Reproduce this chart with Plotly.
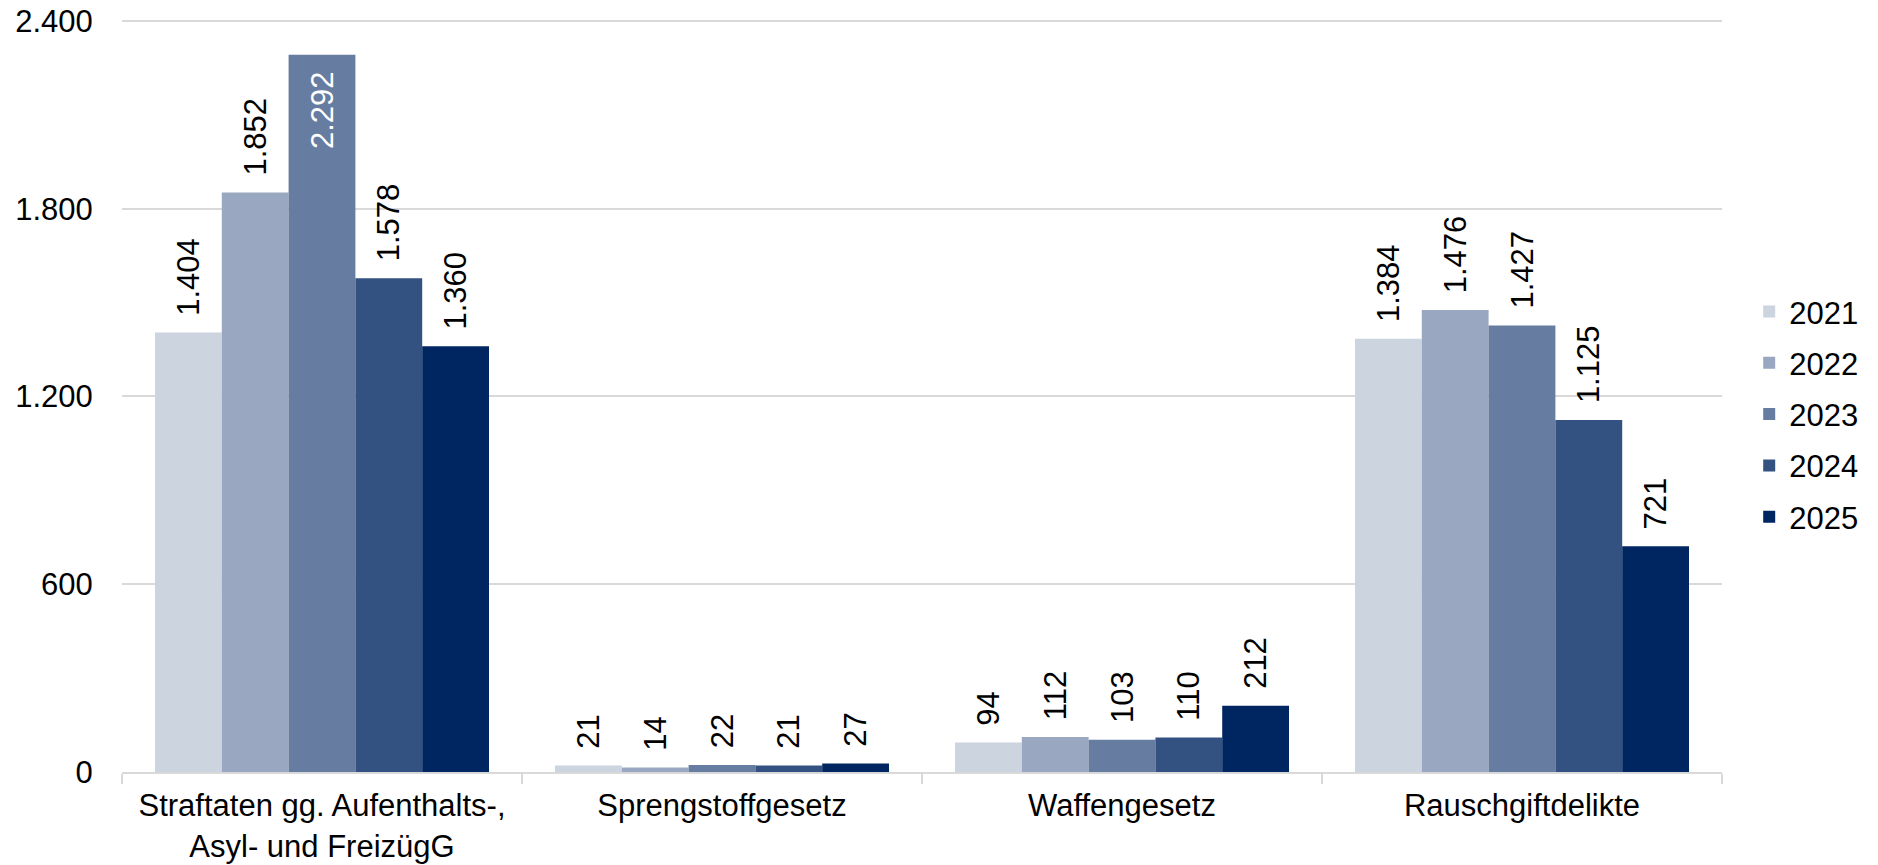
import plotly.graph_objects as go

categories = ["Straftaten gg. Aufenthalts-,<br>Asyl- und FreizügG", "Sprengstoffgesetz", "Waffengesetz", "Rauschgiftdelikte"]
years = ["2021", "2022", "2023", "2024", "2025"]
v2021 = [1404, 21, 94, 1384]
v2022 = [1852, 14, 112, 1476]
v2023 = [2292, 22, 103, 1427]
v2024 = [1578, 21, 110, 1125]
v2025 = [1360, 27, 212, 721]
values = [v2021, v2022, v2023, v2024, v2025]
colors = ["#CCD4E0", "#99A8C0", "#667DA1", "#335281", "#002662"]

FONT = "Arial, Liberation Sans, sans-serif"
FS = 31
NB = "\u00a0\u200a\u200a"

fig = go.Figure()
for yr, vals, col in zip(years, values, colors):
    pos = ["inside" if v > 2100 else "outside" for v in vals]
    fig.add_trace(go.Bar(
        name=yr, x=categories, y=vals,
        marker=dict(color=col, line=dict(width=0)),
        texttemplate=NB + "%{y:,d}" + NB,
        textposition=pos,
        textangle=-90,
        insidetextanchor="end",
        outsidetextfont=dict(family=FONT, size=FS, color="black"),
        insidetextfont=dict(family=FONT, size=FS, color="white"),
        constraintext="none",
        cliponaxis=False,
        legendgroup=yr,
    ))

fig.update_layout(
    width=1878, height=865,
    margin=dict(l=122, r=156, t=19, b=93, autoexpand=False),
    paper_bgcolor="white", plot_bgcolor="white",
    font=dict(family=FONT, size=FS, color="black"),
    separators=",.",
    barmode="group",
    bargap=0.165,
    bargroupgap=0,
    legend=dict(x=1.017, xanchor="left", y=0.475, yanchor="middle",
                font=dict(family=FONT, size=FS, color="black"),
                traceorder="grouped", tracegroupgap=8,
                bgcolor="rgba(0,0,0,0)"),
    showlegend=True,
)
fig.update_xaxes(
    automargin=False,
    showline=True, linecolor="#D9D9D9", linewidth=2,
    ticks="outside", tickson="boundaries", ticklen=10, tickcolor="#D9D9D9", tickwidth=2,
    ticklabelstandoff=5, ticklabeloverflow="allow",
    tickfont=dict(family=FONT, size=FS, color="black"),
    showgrid=False,
)
fig.update_yaxes(
    automargin=False,
    range=[0, 2406], tickvals=[0, 600, 1200, 1800, 2400], tickformat=",d",
    showgrid=True, gridcolor="#D9D9D9", gridwidth=2,
    zeroline=False, showline=False,
    ticks="outside", ticklen=22, tickcolor="rgba(0,0,0,0)",
    ticklabeloverflow="allow",
    tickfont=dict(family=FONT, size=FS, color="black"),
)

fig.write_html("out.html", config={"displayModeBar": False},
               post_script="document.body.style.margin='0';")
